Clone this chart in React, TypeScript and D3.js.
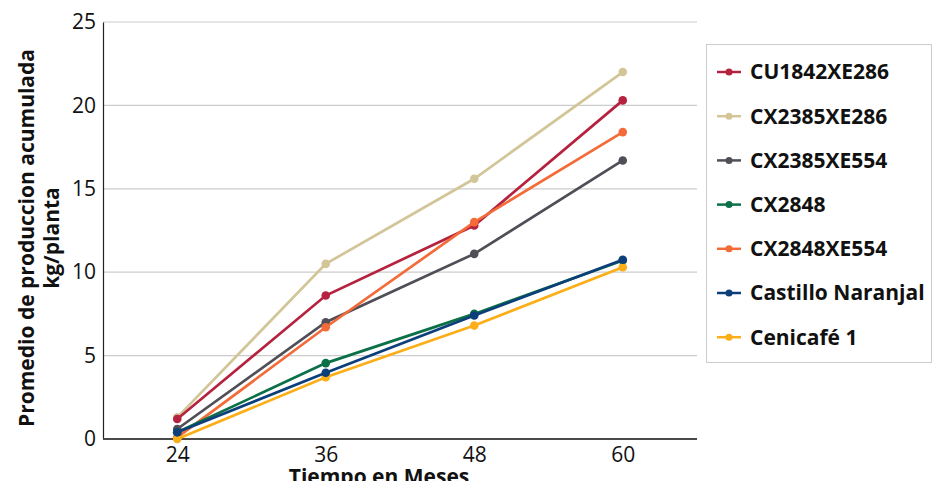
import React, { useEffect, useRef } from 'react';
import * as d3 from 'd3';

// Produccion acumulada por progenie

const months = ['24', '36', '48', '60'];
const yTicks = [0, 5, 10, 15, 20, 25];

const seriesNames = [
  'CU1842XE286',
  'CX2385XE286',
  'CX2385XE554',
  'CX2848',
  'CX2848XE554',
  'Castillo Naranjal',
  'Cenicafé 1',
];
const seriesColors = ['#b5223f', '#d2c598', '#514e58', '#0b7048', '#f26b38', '#0c3f7a', '#fbae17'];

const cu1842xe286 = [1.2, 8.6, 12.8, 20.3];
const cx2385xe286 = [1.3, 10.5, 15.6, 22.0];
const cx2385xe554 = [0.6, 7.0, 11.1, 16.7];
const cx2848 = [0.4, 4.55, 7.5, 10.7];
const cx2848xe554 = [0.1, 6.7, 13.0, 18.4];
const castilloNaranjal = [0.4, 3.97, 7.4, 10.75];
const cenicafe1 = [0.0, 3.7, 6.8, 10.3];

const seriesValues = [cu1842xe286, cx2385xe286, cx2385xe554, cx2848, cx2848xe554, castilloNaranjal, cenicafe1];
// draw order so the lower lines sit on top like the original
const drawOrder = [1, 0, 2, 4, 3, 6, 5];

const App = () => {
  const svgRef = useRef<SVGSVGElement>(null);

  useEffect(() => {
    const width = 943;
    const height = 489;
    const margin = { top: 22, right: 246, bottom: 50, left: 103 };
    const font = '"Open Sans", "Noto Sans", sans-serif';
    const fs = 21;

    const svg = d3.select(svgRef.current);
    svg.selectAll('*').remove();

    const x = d3
      .scalePoint()
      .domain(months)
      .range([margin.left, width - margin.right])
      .padding(0.5);

    const y = d3
      .scaleLinear()
      .domain([0, 25])
      .range([height - margin.bottom, margin.top]);

    // gridlines
    svg.append('g')
      .selectAll('line')
      .data(yTicks.filter(d => d > 0))
      .enter()
      .append('line')
      .attr('x1', margin.left)
      .attr('x2', width - margin.right)
      .attr('y1', d => y(d))
      .attr('y2', d => y(d))
      .attr('stroke', '#cccccc')
      .attr('stroke-width', 1.2);

    // y axis
    const yAxis = svg.append('g')
      .attr('transform', `translate(${margin.left},0)`)
      .call(d3.axisLeft(y).tickValues(yTicks).tickSize(0).tickPadding(7));
    yAxis.select('.domain').attr('stroke', '#222').attr('stroke-width', 1.2);
    yAxis.selectAll('text')
      .attr('font-family', font)
      .attr('font-size', fs)
      .attr('fill', '#111');

    // x axis
    const xAxis = svg.append('g')
      .attr('transform', `translate(0,${height - margin.bottom})`)
      .call(d3.axisBottom(x).tickSize(0).tickPadding(8));
    xAxis.select('.domain')
      .attr('d', `M${margin.left},0H${width - margin.right}`)
      .attr('stroke', '#4a4a4a')
      .attr('stroke-width', 2);
    xAxis.selectAll('text')
      .attr('font-family', font)
      .attr('font-size', fs)
      .attr('fill', '#111');

    // lines
    const line = d3.line<number>()
      .x((_, i) => x(months[i]) as number)
      .y(d => y(d));

    drawOrder.forEach(si => {
      const g = svg.append('g');
      g.append('path')
        .datum(seriesValues[si])
        .attr('d', line)
        .attr('fill', 'none')
        .attr('stroke', seriesColors[si])
        .attr('stroke-width', 2.7);
      g.selectAll('circle')
        .data(seriesValues[si])
        .enter()
        .append('circle')
        .attr('cx', (_, i) => x(months[i]) as number)
        .attr('cy', d => y(d))
        .attr('r', 4.3)
        .attr('fill', seriesColors[si]);
    });

    // axis titles
    svg.append('text')
      .attr('x', 379)
      .attr('y', 484)
      .attr('text-anchor', 'middle')
      .attr('font-family', font)
      .attr('font-size', fs)
      .attr('font-weight', 'bold')
      .attr('fill', '#111')
      .text('Tiempo en Meses');

    const yt = svg.append('text')
      .attr('transform', 'translate(34,238) rotate(-90)')
      .attr('text-anchor', 'middle')
      .attr('font-family', font)
      .attr('font-size', fs)
      .attr('font-weight', 'bold')
      .attr('fill', '#111');
    yt.append('tspan').attr('x', 0).attr('dy', 0).text('Promedio de produccion acumulada');
    yt.append('tspan').attr('x', 0).attr('dy', 25).text('kg/planta');

    // legend
    const legend = svg.append('g');
    legend.append('rect')
      .attr('x', 706.5)
      .attr('y', 44.5)
      .attr('width', 225)
      .attr('height', 318)
      .attr('fill', '#fff')
      .attr('stroke', '#cccccc')
      .attr('stroke-width', 1);

    const items = legend.selectAll('g.item')
      .data(seriesNames)
      .enter()
      .append('g')
      .attr('transform', (_, i) => `translate(717,${72 + i * 44.2})`);
    items.append('line')
      .attr('x1', 0)
      .attr('x2', 24)
      .attr('stroke', (_, i) => seriesColors[i])
      .attr('stroke-width', 2.5);
    items.append('circle')
      .attr('cx', 12)
      .attr('r', 3.5)
      .attr('fill', (_, i) => seriesColors[i]);
    items.append('text')
      .attr('x', 33)
      .attr('dy', '0.35em')
      .attr('font-family', font)
      .attr('font-size', fs)
      .attr('font-weight', 'bold')
      .attr('fill', '#111')
      .text(d => d);
  }, []);

  return <svg ref={svgRef} width={943} height={489} style={{ display: 'block', margin: '-8px' }} />;
};

export default App;
